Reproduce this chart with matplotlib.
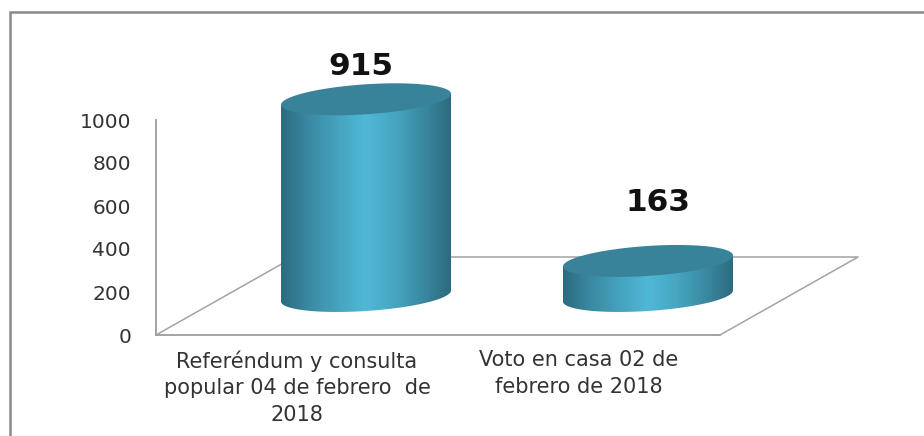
#!/usr/bin/env python3
import matplotlib

matplotlib.use("Agg")
import matplotlib.pyplot as plt
import numpy as np
from matplotlib.colors import LinearSegmentedColormap
from matplotlib.lines import Line2D
from matplotlib.patches import PathPatch, Polygon
from matplotlib.path import Path

categories = ["Referéndum y consulta\npopular 04 de febrero  de\n2018",
              "Voto en casa 02 de\nfebrero de 2018"]
values = [915, 163]
y_ticks = [0, 200, 400, 600, 800, 1000]

W, H = 924, 436
# plot box in pixels (front face of the 3d chart)
LEFT, RIGHT, TOP, BOTTOM = 156, 720, 120, 335
GREY = "#a3a3a3"
TOP_COLOR = "#38839a"
# value labels were placed by hand in the original, offset in px from the cap centre
LABEL_DX = [-5, 10]
LABEL_DY = [33, 58]

fig = plt.figure(figsize=(W / 100, H / 100), dpi=100)
ax = fig.add_axes([LEFT / W, 1 - BOTTOM / H, (RIGHT - LEFT) / W, (BOTTOM - TOP) / H])
ax.set_xlim(0, len(values))
ax.set_ylim(0, 1000)
ax.patch.set_alpha(0)

x_px = (RIGHT - LEFT) / len(values)
y_px = (BOTTOM - TOP) / 1000

# depth of the 3d floor, in data units
depth_x, depth_y = 138 / x_px, 78 / y_px

for side in ("top", "right"):
    ax.spines[side].set_visible(False)
for side in ("left", "bottom"):
    ax.spines[side].set_color(GREY)
    ax.spines[side].set_linewidth(1.4)
ax.set_yticks(y_ticks)
ax.set_xticks(np.arange(len(values)) + 0.5, categories, linespacing=1.42)
ax.tick_params(axis="both", length=0)
ax.tick_params(axis="y", labelsize=14.5, labelcolor="#333333", pad=18)
ax.tick_params(axis="x", labelsize=15, labelcolor="#333333", pad=11)

# floor outline
ax.plot([0, depth_x, len(values) + depth_x, len(values)], [0, depth_y, depth_y, 0],
        color=GREY, lw=1.1, clip_on=False, zorder=1)

# outer chart border: only left and top are inside the image
border_x, border_y = 10 / W, 1 - 12 / H
fig.add_artist(Line2D([border_x, border_x, 1], [0, border_y, border_y], color="#8a8a8a", lw=1.8,
                      solid_joinstyle="miter"))

side_cmap = LinearSegmentedColormap.from_list(
    "cyl", ["#2c6b80", "#3b8aa3", "#45a3bf", "#50b8d7", "#47a6c1", "#3a8aa2", "#2d6a7e"])

half_w = 85 / x_px
half_h = 15 / y_px
tilt = 5.5 / y_px
t = np.linspace(0, 2 * np.pi, 181)

for i, val in enumerate(values):
    cx = i + 0.5 + depth_x / 2
    base = depth_y / 2
    ex = cx + half_w * np.cos(t)
    ey = half_h * np.sin(t) + tilt * np.cos(t)

    # side of the cylinder: lower half of base ellipse + upper rim, gradient clipped to it
    lo = np.argsort(ex[t >= np.pi])
    bx, by = ex[t >= np.pi][lo], ey[t >= np.pi][lo] + base
    body = np.vstack([np.column_stack([bx, by]),
                      [[bx[-1], by[-1] + val]],
                      [[bx[0], by[0] + val]]])
    body_patch = PathPatch(Path(np.vstack([body, body[:1]])), facecolor="none", edgecolor="none",
                           transform=ax.transData, clip_on=False)
    ax.add_patch(body_patch)
    grad = np.linspace(0, 1, 256).reshape(1, -1)
    im = ax.imshow(grad, cmap=side_cmap, aspect="auto", zorder=3,
                   extent=(cx - half_w, cx + half_w, 0, base + val + tilt))
    im.set_clip_box(fig.bbox)
    im.set_clip_path(body_patch)

    # top cap
    ax.add_patch(Polygon(np.column_stack([ex, ey + base + val]), closed=True, facecolor=TOP_COLOR,
                         edgecolor="none", clip_on=False, zorder=4))

    ax.text(cx + LABEL_DX[i] / x_px, base + val + LABEL_DY[i] / y_px, str(val), ha="center", va="center",
            fontsize=22.5, fontweight="bold", color="#111111", clip_on=False, zorder=5)

ax.set_xlim(0, len(values))
ax.set_ylim(0, 1000)
fig.savefig("out.png", dpi=100)
